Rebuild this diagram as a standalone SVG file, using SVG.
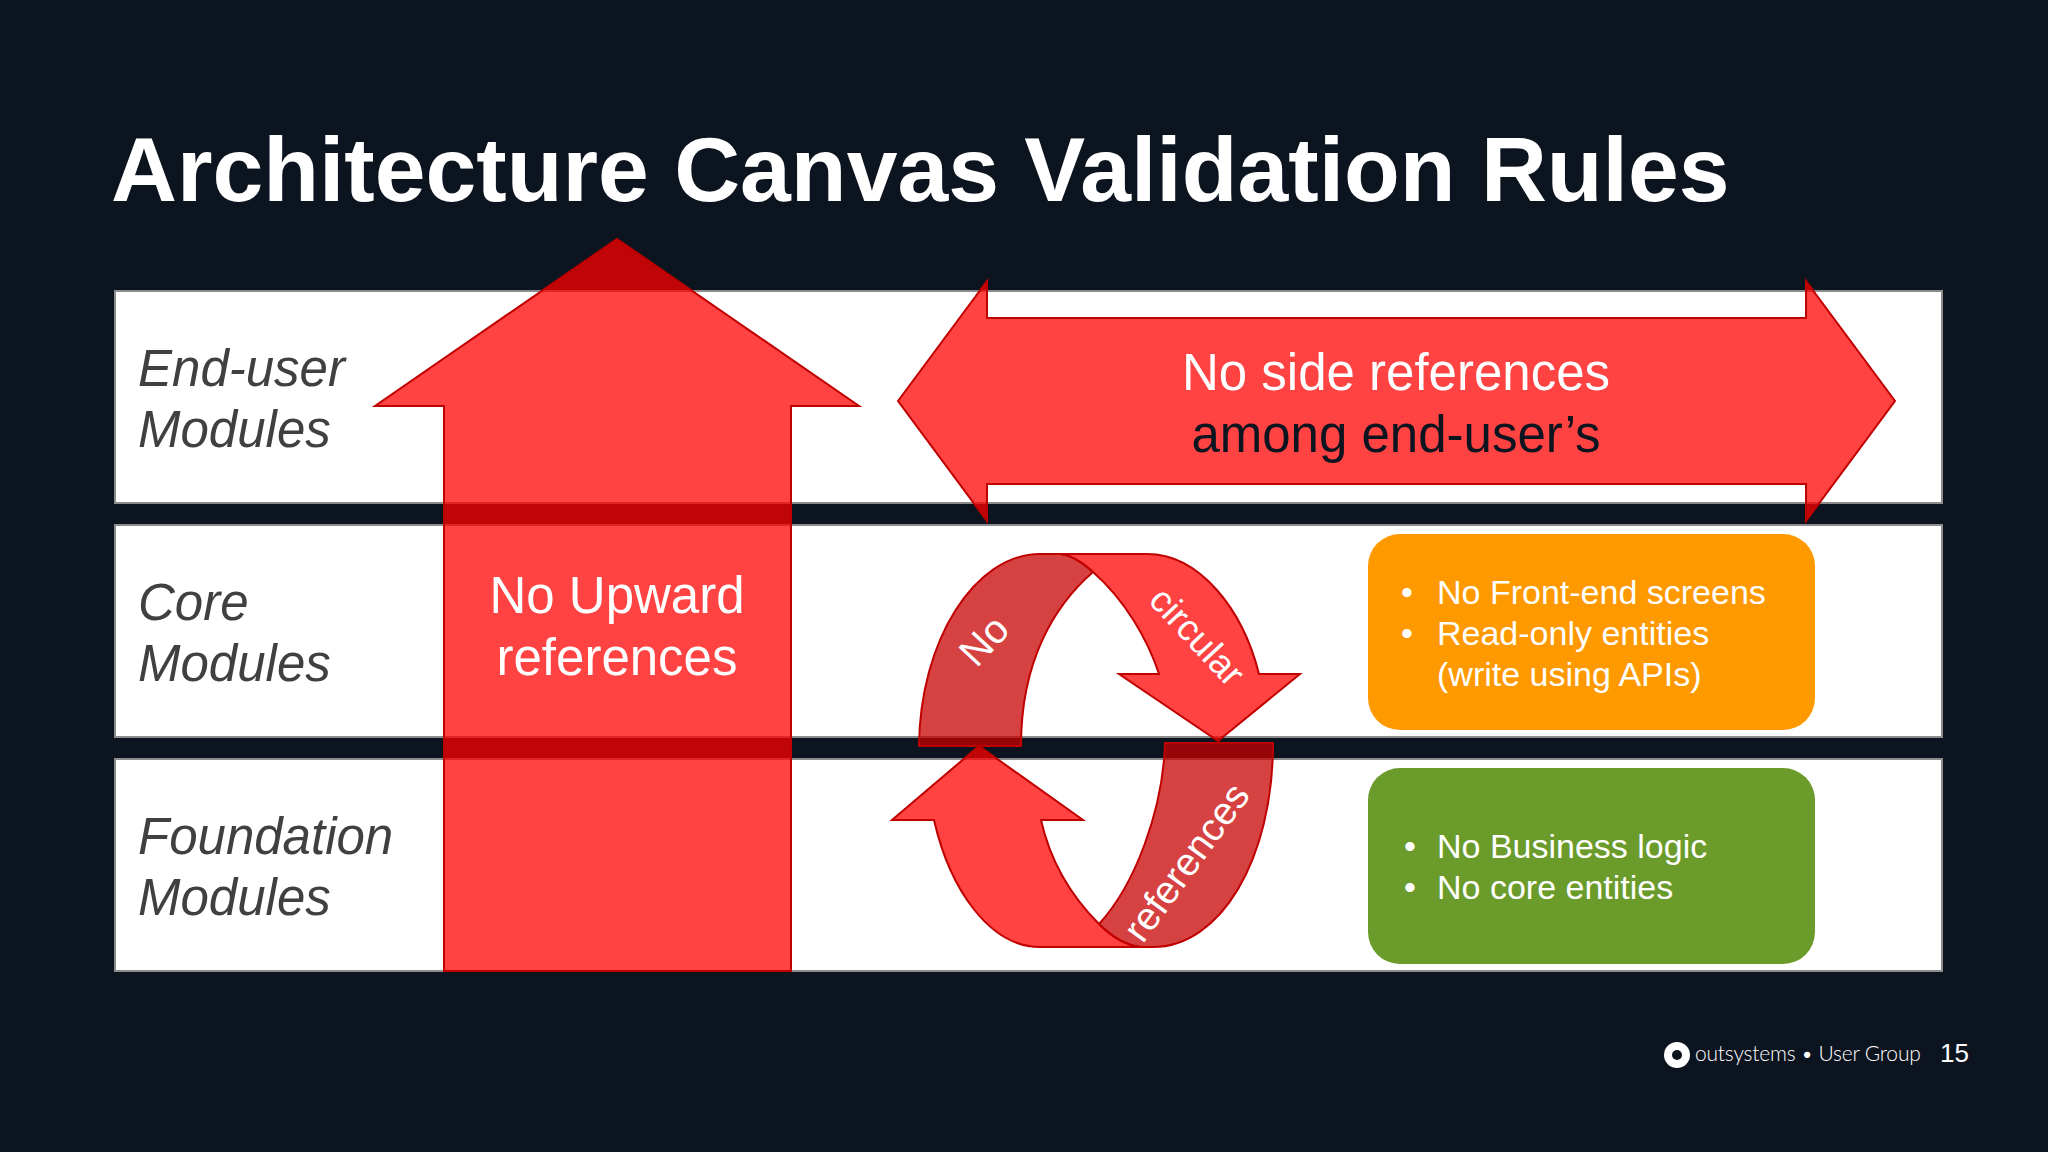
<svg xmlns="http://www.w3.org/2000/svg" width="2048" height="1152" viewBox="0 0 2048 1152">
<style>
text{font-family:"Liberation Sans",Arial,sans-serif}
.row{fill:#fff;stroke:#8c8c8c;stroke-width:2}
.lab{font-size:51px;font-style:italic;fill:#404040}
.a{fill:rgba(255,0,0,.74);stroke:#c00000;stroke-width:2;stroke-linejoin:miter}
.d{fill:rgba(200,0,0,.74);stroke:#c00000;stroke-width:2}
.w{font-size:51px;fill:#fff;text-anchor:middle}
.k{font-size:51px;fill:#0c141f;text-anchor:middle}
.b{font-size:34px;fill:#fff}
.r{fill:#fff;text-anchor:middle}
</style>
<rect width="2048" height="1152" fill="#0c141f"/>
<text id="title" x="111" y="201" font-size="91.3" font-weight="bold" fill="#fff">Architecture Canvas Validation Rules</text>
<g id="row-end-user"><rect class="row" x="115" y="291" width="1827" height="212"/>
<text class="lab" x="138" y="386">End-user</text><text class="lab" x="138" y="447">Modules</text></g>
<g id="row-core"><rect class="row" x="115" y="525" width="1827" height="212"/>
<text class="lab" x="138" y="620">Core</text><text class="lab" x="138" y="681">Modules</text></g>
<g id="row-foundation"><rect class="row" x="115" y="759" width="1827" height="212"/>
<text class="lab" x="138" y="854">Foundation</text><text class="lab" x="138" y="915">Modules</text></g>
<g id="box-core"><rect x="1368" y="534" width="447" height="196" rx="32" fill="#ff9900"/>
<text class="b" x="1401" y="604">•</text><text class="b" x="1437" y="604">No Front-end screens</text>
<text class="b" x="1401" y="645">•</text><text class="b" x="1437" y="645">Read-only entities</text>
<text class="b" x="1437" y="686">(write using APIs)</text></g>
<g id="box-foundation"><rect x="1368" y="768" width="447" height="196" rx="32" fill="#6b9b2a"/>
<text class="b" x="1404" y="858">•</text><text class="b" x="1437" y="858">No Business logic</text>
<text class="b" x="1404" y="899">•</text><text class="b" x="1437" y="899">No core entities</text></g>
<g id="connectors">
<g id="arrow-upward"><path class="a" d="M617,239L859,406H791V971H444V406H375Z"/>
<text class="w" x="617" y="613">No Upward</text><text class="w" x="617" y="675">references</text></g>
<g id="arrow-side"><path class="a" d="M898,401L987,281V318H1806V281L1895,401L1806,521V484H987V521Z"/>
<text class="w" x="1396" y="390">No side references</text><text class="k" x="1396" y="452">among end-user’s</text></g>
<g id="circular-arrows">
<path class="d" d="M919,746C920,640 975,554 1040,554H1060C1072,555 1083,563 1093,572C1055,605 1021,660 1021,746Z"/>
<path class="a" d="M1060,554H1147C1200,554 1243,610 1259,674H1300L1218,741L1119,674H1159C1148,640 1125,600 1093,572C1083,563 1072,555 1060,554Z"/>
<path class="d" d="M1165,743H1273C1273,860 1220,947 1153,947H1140C1125,945 1110,935 1099,924C1135,885 1163,810 1165,743Z"/>
<path class="a" d="M979,746L1083,820H1041C1050,860 1070,895 1099,924C1110,935 1125,945 1140,947H1040C990,947 950,890 934,820H892Z"/>
<text class="r" font-size="40" transform="translate(994,650) rotate(-47)">No</text>
<text class="r" font-size="37" transform="translate(1188,645) rotate(47)">circular</text>
<text class="r" font-size="39" transform="translate(1197,870) rotate(-54)">references</text>
</g></g>
<g id="footer"><circle cx="1677" cy="1055" r="13" fill="#fff"/><circle cx="1677" cy="1055" r="5" fill="#0c141f"/>
<text x="1695" y="1061" font-size="21" fill="#fff" letter-spacing="-.2" style="font-family:Lato,sans-serif;font-weight:300">outsystems • User Group</text>
<text x="1940" y="1062" font-size="26" fill="#fff">15</text></g>
</svg>
